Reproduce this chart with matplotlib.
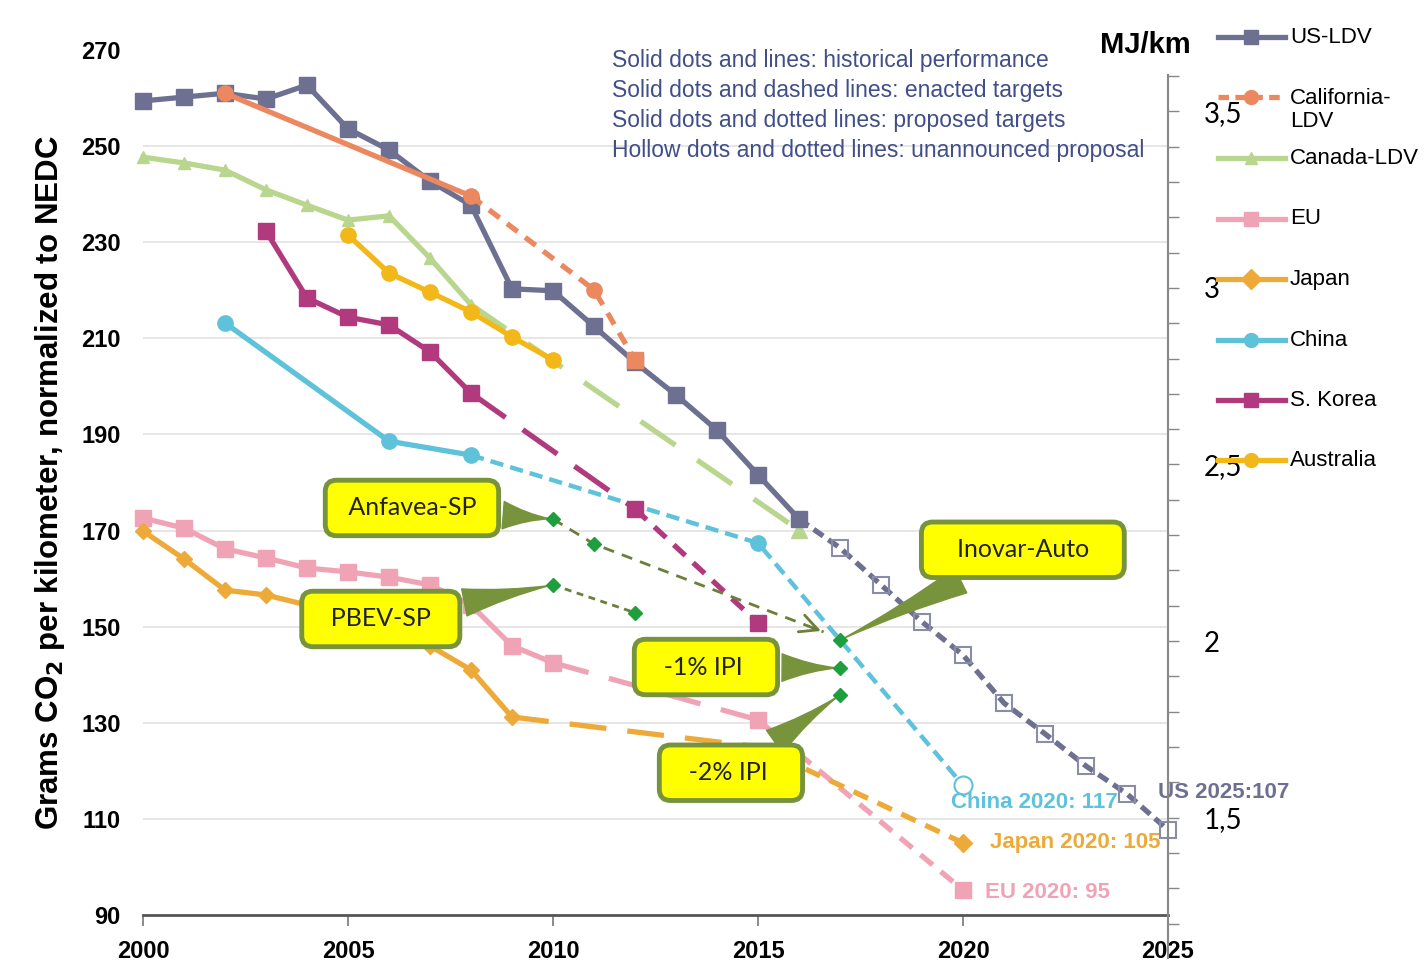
import matplotlib.pyplot as plt
from matplotlib.lines import Line2D
from matplotlib.ticker import MultipleLocator, FuncFormatter

W, H = 1425, 966

# ---------------- data (g CO2/km, NEDC) ----------------
us_years = list(range(2000, 2017))
us_vals = [259.4, 260.2, 261.0, 259.8, 262.7, 253.6, 249.2, 242.7, 237.7,
           220.3, 219.9, 212.5, 205.0, 198.2, 190.9, 181.6, 172.4]
us_prop_years = list(range(2016, 2026))
us_prop_vals = [172.4, 166.4, 158.7, 151.0, 144.1, 134.1, 127.7, 121.0, 115.2, 107.7]

cal_years = [2002, 2008]
cal_vals = [261.0, 239.6]
cal_tgt_years = [2008, 2011, 2012]
cal_tgt_vals = [239.6, 220.1, 205.5]

can_years = list(range(2000, 2009))
can_vals = [247.7, 246.5, 245.0, 240.9, 237.7, 234.6, 235.5, 226.7, 217.0]
can_tgt_years = [2008, 2016]
can_tgt_vals = [217.0, 170.1]

eu_years = list(range(2000, 2011))
eu_vals = [172.6, 170.5, 166.2, 164.3, 162.2, 161.4, 160.3, 158.7, 154.5, 146.0, 142.5]
eu_tgt1_years = [2010, 2015]
eu_tgt1_vals = [142.5, 130.6]
eu_tgt2_years = [2015, 2020]
eu_tgt2_vals = [130.6, 95.2]

jp_years = list(range(2000, 2010))
jp_vals = [169.9, 164.1, 157.6, 156.6, 154.5, 152.0, 149.0, 146.0, 141.0, 131.2]
jp_tgt1_years = [2009, 2015]
jp_tgt1_vals = [131.2, 125.0]
jp_tgt2_years = [2015, 2020]
jp_tgt2_vals = [125.0, 105.0]

cn_years = [2002, 2006, 2008]
cn_vals = [213.2, 188.6, 185.7]
cn_tgt_years = [2008, 2015, 2020]
cn_tgt_vals = [185.7, 167.4, 117.0]

kr_years = list(range(2003, 2009))
kr_vals = [232.3, 218.4, 214.4, 212.8, 207.2, 198.6]
kr_tgt1_years = [2008, 2012]
kr_tgt1_vals = [198.6, 174.5]
kr_tgt2_years = [2012, 2015]
kr_tgt2_vals = [174.5, 150.8]

au_years = list(range(2005, 2011))
au_vals = [231.5, 223.6, 219.6, 215.5, 210.3, 205.5]

# Brazil
anf_years = [2010, 2011, 2016.6]
anf_vals = [172.4, 167.2, 148.9]
pbev_years = [2010, 2012]
pbev_vals = [158.7, 152.9]
br2017_year = 2017
inovar_val = 147.2
ipi1_val = 141.4
ipi2_val = 135.8

MJ_PER_G = 1 / 73.5

c_us = '#6e7091'
c_cal = '#eb8860'
c_can = '#b9d68f'
c_eu = '#f1a3b6'
c_jp = '#eeaa38'
c_cn = '#5ec2da'
c_kr = '#b13a7f'
c_au = '#f2b81a'
c_br = '#1f9e3e'
c_ol = '#77933c'

legend_labels = ['US-LDV', 'California-\nLDV', 'Canada-LDV', 'EU', 'Japan', 'China', 'S. Korea', 'Australia']
legend_styles = [(c_us, '-', 's'), (c_cal, '--', 'o'), (c_can, '-', '^'), (c_eu, '-', 's'),
                 (c_jp, '-', 'D'), (c_cn, '-', 'o'), (c_kr, '-', 's'), (c_au, '-', 'o')]

notes = ['Solid dots and lines: historical performance',
         'Solid dots and dashed lines: enacted targets',
         'Solid dots and dotted lines: proposed targets',
         'Hollow dots and dotted lines: unannounced proposal']

# ---------------- figure ----------------
fig = plt.figure(figsize=(W / 100, H / 100), dpi=100)
ax = fig.add_axes([143 / W, 1 - 915 / H, (1168 - 143) / W, (915 - 50) / H])
ax.set_xlim(2000, 2025)
ax.set_ylim(90, 270)

for v in range(110, 270, 20):
    ax.axhline(v, color='#e2e2e2', lw=1.2, zorder=0)

lw = 3.8
kw = dict(lw=lw, clip_on=False)
# US
ax.plot(us_years, us_vals, color=c_us, marker='s', ms=12, zorder=3, **kw)
ax.plot(us_prop_years, us_prop_vals, color=c_us, ls=(0, (2.2, 1.2)), marker='s', ms=12,
        mfc='none', mec='#8a8ca8', mew=1.5, markevery=list(range(1, 10)), zorder=3, **kw)
# California
ax.plot(cal_years, cal_vals, color=c_cal, marker='o', ms=11, zorder=4, **kw)
ax.plot(cal_tgt_years, cal_tgt_vals, color=c_cal, ls=(0, (2.5, 1.8)), marker='o', ms=11,
        markevery=[1], zorder=4, **kw)
ax.plot(cal_tgt_years[-1:], cal_tgt_vals[-1:], color=c_cal, marker='s', ms=11, ls='none', zorder=4)
# Canada
ax.plot(can_years, can_vals, color=c_can, marker='^', ms=9, zorder=2, **kw)
ax.plot(can_tgt_years, can_tgt_vals, color=c_can, ls=(0, (8, 5)), zorder=2, **kw)
ax.plot(can_tgt_years[-1:], can_tgt_vals[-1:], color=c_can, marker='^', ms=11, ls='none', zorder=2)
# EU
ax.plot(eu_years, eu_vals, color=c_eu, marker='s', ms=11, zorder=3, **kw)
ax.plot(eu_tgt1_years, eu_tgt1_vals, color=c_eu, ls=(0, (7, 4)), zorder=3, **kw)
ax.plot(eu_tgt2_years, eu_tgt2_vals, color=c_eu, ls=(0, (3, 2)), marker='s', ms=12, zorder=3, **kw)
# Japan
ax.plot(jp_years, jp_vals, color=c_jp, marker='D', ms=8, zorder=3, **kw)
ax.plot(jp_tgt1_years, jp_tgt1_vals, color=c_jp, ls=(0, (7, 4)), zorder=3, **kw)
ax.plot(jp_tgt2_years, jp_tgt2_vals, color=c_jp, ls=(0, (3, 2)), marker='D', ms=9,
        markevery=[1], zorder=3, **kw)
# China
ax.plot(cn_years, cn_vals, color=c_cn, marker='o', ms=11, zorder=3, **kw)
ax.plot(cn_tgt_years, cn_tgt_vals, color=c_cn, ls=(0, (3, 1.6)), lw=3.2, marker='o', ms=11,
        markevery=[1], zorder=3, clip_on=False)
ax.plot(cn_tgt_years[-1:], cn_tgt_vals[-1:], ls='none', marker='o', ms=13, mfc='white',
        mec=c_cn, mew=1.5, zorder=3)
# S. Korea
ax.plot(kr_years, kr_vals, color=c_kr, marker='s', ms=12, zorder=3, **kw)
ax.plot(kr_tgt1_years, kr_tgt1_vals, color=c_kr, ls=(0, (8, 4)), marker='s', ms=12,
        markevery=[1], zorder=3, **kw)
ax.plot(kr_tgt2_years, kr_tgt2_vals, color=c_kr, ls=(0, (3, 2)), marker='s', ms=12,
        markevery=[1], zorder=3, **kw)
# Australia
ax.plot(au_years, au_vals, color=c_au, marker='o', ms=11, zorder=4, **kw)

# Brazil
ax.plot(anf_years, anf_vals, color='#6b7f3a', ls=(0, (4, 3)), lw=2, zorder=5)
ax.plot(anf_years[:2], anf_vals[:2], ls='none', marker='D', ms=7, color=c_br, zorder=12)
slope = (anf_vals[2] - anf_vals[1]) / (anf_years[2] - anf_years[1])
ax.annotate('', xy=(anf_years[-1], anf_vals[-1]),
            xytext=(anf_years[-1] - 0.3, anf_vals[-1] - 0.3 * slope),
            arrowprops=dict(arrowstyle='->', color='#6b7f3a', lw=2, mutation_scale=32), zorder=5)
ax.plot(pbev_years, pbev_vals, color='#6b7f3a', ls=(0, (2.5, 2)), lw=2, marker='D', ms=7,
        mfc=c_br, mec=c_br, zorder=12)
ax.plot([br2017_year] * 3, [inovar_val, ipi1_val, ipi2_val], ls='none', marker='D', ms=7,
        color=c_br, zorder=12)

box = dict(boxstyle='round,pad=0.65,rounding_size=0.45', fc='#ffff00', ec=c_ol, lw=3.5)
wedge = dict(arrowstyle='wedge,tail_width=1.1,shrink_factor=0.35', fc=c_ol, ec=c_ol, lw=1)
callouts = [(' Anfavea-SP ', (2010, anf_vals[0]), (2006.56, 174.7)),
            ('  PBEV-SP  ', (2010, pbev_vals[0]), (2005.8, 151.6)),
            ('   Inovar-Auto   ', (br2017_year, inovar_val), (2021.46, 166.0)),
            ('  -1% IPI   ', (br2017_year, ipi1_val), (2013.73, 141.6)),
            ('  -2% IPI   ', (br2017_year, ipi2_val), (2014.34, 119.6))]
for txt, xy, xyt in callouts:
    ax.annotate(txt, xy=xy, xytext=xyt, ha='center', va='center', fontsize=18,
                family='Lato', color='#222222', bbox=box, arrowprops=wedge, zorder=10)

lab = dict(fontsize=16, fontweight='bold', family='Liberation Sans', va='center', zorder=6)
ax.text(2019.7, 113.5, 'China 2020: 117', color=c_cn, **lab)
ax.text(2020.66, 105.0, 'Japan 2020: 105', color=c_jp, **lab)
ax.text(2020.54, 94.6, 'EU 2020: 95', color=c_eu, **lab)
ax.text(2024.76, 115.4, 'US 2025:107', color=c_us, **lab)

for s in ['left', 'top', 'right']:
    ax.spines[s].set_visible(False)
ax.spines['bottom'].set_color('#555555')
ax.spines['bottom'].set_linewidth(2)
ax.set_xticks(range(2000, 2026, 5))
ax.set_yticks(range(90, 271, 20))
ax.tick_params(axis='y', length=0, pad=16)
ax.tick_params(axis='x', length=8, width=1.2, color='#777777', pad=10)
for t in ax.get_xticklabels() + ax.get_yticklabels():
    t.set_fontweight('bold')
    t.set_fontsize(17)
    t.set_family('Liberation Sans')
ax.set_ylabel('Grams CO$_\\mathbf{2}$ per kilometer, normalized to NEDC', fontsize=22.5,
              fontweight='bold', family='Liberation Sans', labelpad=10)

# right axis (MJ/km)
top2, bot2 = 75, 958
ax2 = fig.add_axes([143 / W, 1 - bot2 / H, (1168 - 143) / W, (bot2 - top2) / H])
ax2.patch.set_visible(False)
g_per_px = 180 / 865
ax2.set_ylim((270 - (bot2 - 50) * g_per_px) * MJ_PER_G, (270 - (top2 - 50) * g_per_px) * MJ_PER_G)
ax2.xaxis.set_visible(False)
for s in ['left', 'top', 'bottom']:
    ax2.spines[s].set_visible(False)
ax2.spines['right'].set_color('#888888')
ax2.spines['right'].set_linewidth(1.5)
ax2.yaxis.tick_right()
ax2.yaxis.set_major_locator(MultipleLocator(0.5))
ax2.yaxis.set_minor_locator(MultipleLocator(0.1))
ax2.yaxis.set_major_formatter(FuncFormatter(lambda v, p: f'{v:g}'.replace('.', ',')))
ax2.tick_params(axis='y', which='both', length=8, width=1, color='#888888')
ax2.tick_params(axis='y', which='major', labelsize=20, pad=18)
for t in ax2.get_yticklabels():
    t.set_family('Lato')

fig.text(1145 / W, 1 - 45 / H, 'MJ/km', fontsize=21, fontweight='bold', family='Liberation Sans',
         ha='center', va='center')

for i, line in enumerate(notes):
    fig.text(612 / W, 1 - (60 + i * 30.3) / H, line, fontsize=16.5, color='#414e88',
             family='Liberation Sans', va='center')

# legend
for i, (label, (col, ls, mk)) in enumerate(zip(legend_labels, legend_styles)):
    y = 1 - (37 + i * 60.5) / H
    fig.add_artist(Line2D([1218 / W, 1285 / W], [y, y], color=col, ls=(0, (2, 1.2)) if ls == '--' else ls,
                          lw=lw, transform=fig.transFigure))
    fig.add_artist(Line2D([1251 / W], [y], color=col, marker=mk, ms=10 if mk != '^' else 9,
                          transform=fig.transFigure))
    fig.text(1290 / W, y + 10 / H, label, fontsize=16, family='Liberation Sans', va='top',
             linespacing=1.15)

fig.savefig('out.png', dpi=100)
